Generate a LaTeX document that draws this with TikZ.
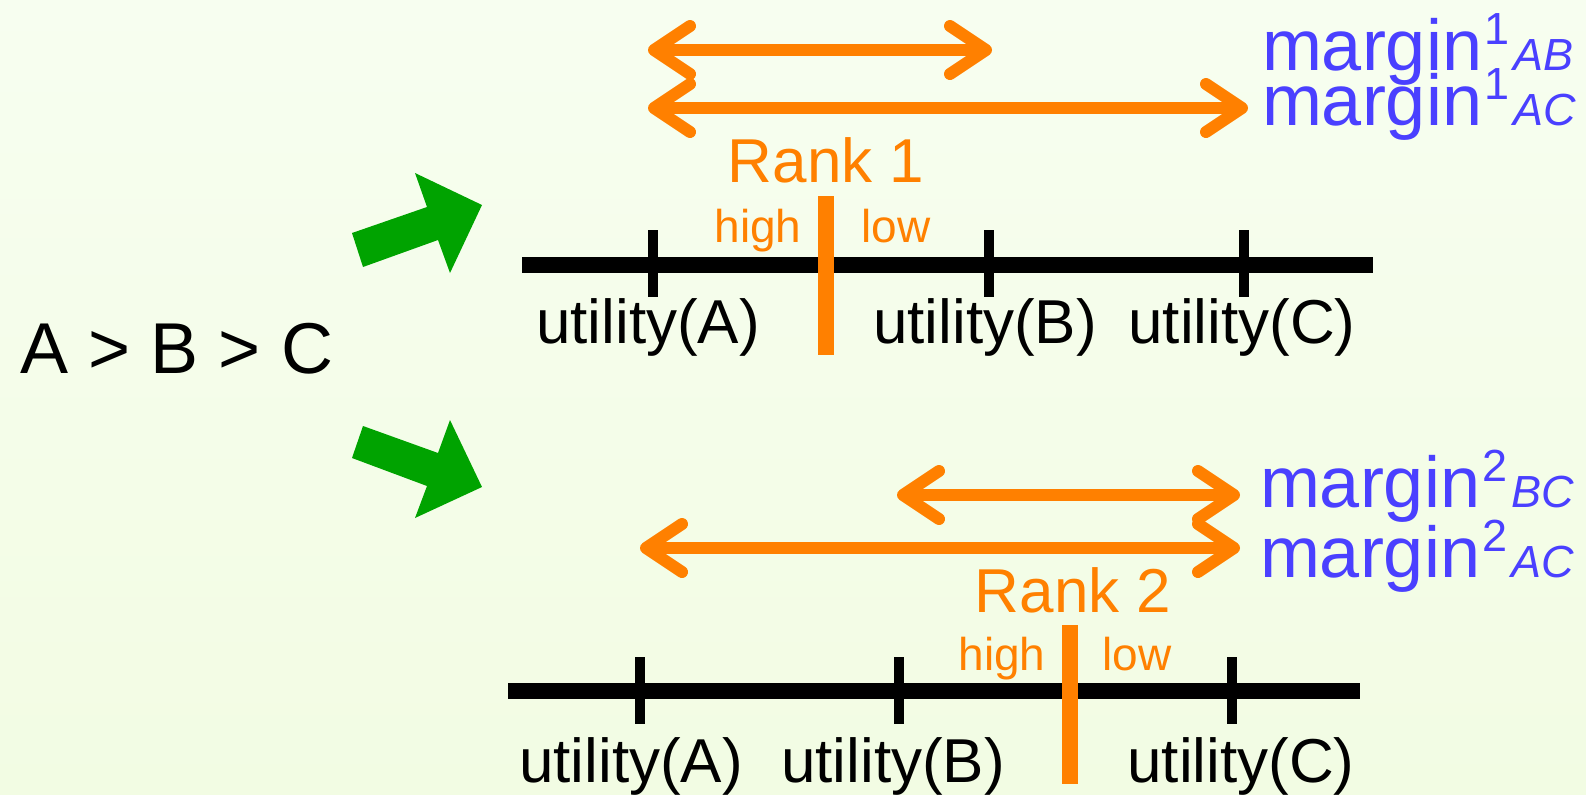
\documentclass[tikz,border=0pt]{standalone}
\usepackage{fontspec}
\setmainfont{Liberation Sans}
\usetikzlibrary{arrows.meta}
\definecolor{org}{RGB}{255,128,0}
\definecolor{blu}{RGB}{74,64,255}
\definecolor{grn}{RGB}{0,163,0}
\definecolor{bgtop}{RGB}{247,254,240}
\definecolor{bgbot}{RGB}{242,252,227}
\newcommand{\mrg}[2]{{\fontsize{36pt}{40pt}\selectfont margin}\kern1pt\raisebox{13pt}{\fontsize{22.5pt}{24pt}\selectfont #1}\kern2pt{\fontsize{22.5pt}{24pt}\selectfont\itshape #2}}
\begin{document}
\begin{tikzpicture}[x=0.5pt,y=-0.5pt,
  txt/.style={inner sep=0pt,outer sep=0pt,anchor=base},
  util/.style={txt,font=\fontsize{31pt}{34pt}\selectfont},
  hl/.style={txt,text=org,font=\fontsize{23pt}{26pt}\selectfont},
  rank/.style={txt,text=org,font=\fontsize{31pt}{34pt}\selectfont},
  mtext/.style={txt,anchor=base west,text=blu},
  dbl/.style={org,line width=6pt,{Straight Barb[length=18pt,width=24pt,line cap=round,line join=round]}-{Straight Barb[length=18pt,width=24pt,line cap=round,line join=round]}},
  axis/.style={black,line width=8pt},
  tick/.style={black,line width=5pt},
  bar/.style={org,line width=8pt},
  garrow/.style={fill=grn,draw=none}
]
\shade[top color=bgtop,bottom color=bgbot] (0,0) rectangle (1586,794);
\useasboundingbox (0,0) rectangle (1586,794);

% left label
\node[txt,font=\fontsize{36pt}{40pt}\selectfont] (abc) at (177,373) {A > B > C};

% green arrows
\path[garrow] (352,233) -- (427,207) -- (415,173) -- (482,205) -- (450,273) -- (438,240) -- (363,267) -- cycle;
\path[garrow] (363,426) -- (438,453) -- (450,420) -- (482,487) -- (415,518) -- (427,486) -- (352,458) -- cycle;

% ---------- top ----------
\coordinate (t1l) at (648,50); \coordinate (t1r) at (992,50);
\coordinate (t2l) at (648,108); \coordinate (t2r) at (1248,108);
\draw[dbl] (t1l) -- (t1r);
\draw[dbl] (t2l) -- (t2r);
\node[mtext] (mab) at (1262,70) {\mrg{1}{AB}};
\node[mtext] (mac1) at (1262,125) {\mrg{1}{AC}};

\coordinate (ax1l) at (522,265); \coordinate (ax1r) at (1373,265);
\draw[axis] (ax1l) -- (ax1r);
\foreach \x in {653,989,1244}{
  \draw[tick] (\x,230) -- (\x,297);
}
\draw[bar] (826,196) -- (826,355);
\node[rank] (rank1) at (826,182) {Rank 1};
\node[hl] (high1) at (758,242) {high};
\node[hl] (low1) at (896,242) {low};
\node[util] (ua1) at (648,343) {utility(A)};
\node[util] (ub1) at (985,343) {utility(B)};
\node[util] (uc1) at (1242,343) {utility(C)};

% ---------- bottom ----------
\coordinate (b1l) at (897,495); \coordinate (b1r) at (1240,495);
\coordinate (b2l) at (640,548); \coordinate (b2r) at (1240,548);
\draw[dbl] (b1l) -- (b1r);
\draw[dbl] (b2l) -- (b2r);
\node[mtext] (mbc) at (1260,507) {\mrg{2}{BC}};
\node[mtext] (mac2) at (1260,577) {\mrg{2}{AC}};

\coordinate (ax2l) at (508,691); \coordinate (ax2r) at (1360,691);
\draw[axis] (ax2l) -- (ax2r);
\foreach \x in {640,899,1232}{
  \draw[tick] (\x,657) -- (\x,724);
}
\draw[bar] (1070,625) -- (1070,784);
\node[rank] (rank2) at (1073,612) {Rank 2};
\node[hl] (high2) at (1002,670) {high};
\node[hl] (low2) at (1137,670) {low};
\node[util] (ua2) at (631,782) {utility(A)};
\node[util] (ub2) at (893,782) {utility(B)};
\node[util] (uc2) at (1241,782) {utility(C)};
\end{tikzpicture}
\end{document}
